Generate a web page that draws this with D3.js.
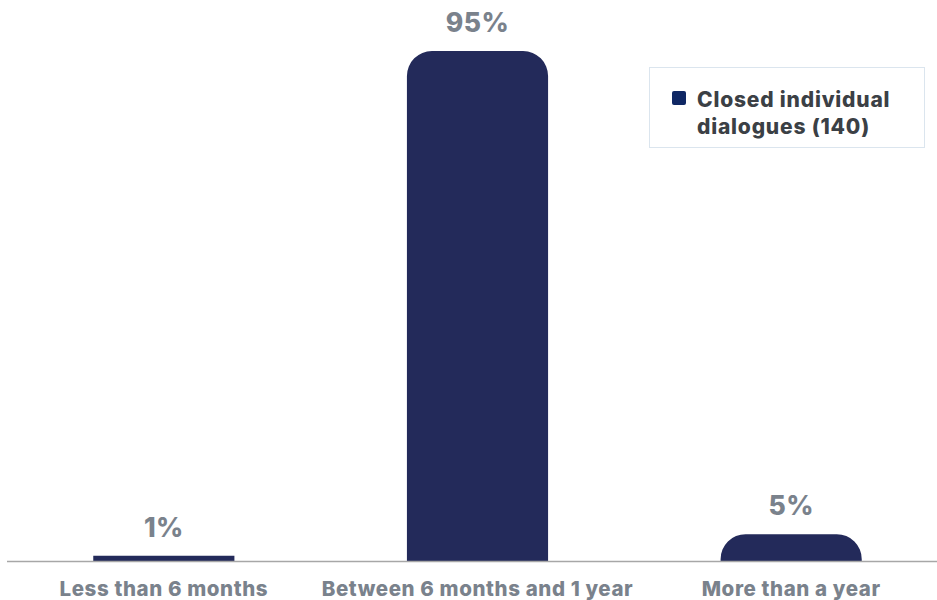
<!DOCTYPE html>
<html>
<head>
<meta charset="utf-8">
<script src="https://cdn.jsdelivr.net/npm/d3@7"></script>
<style>
  html, body { margin: 0; padding: 0; background: #ffffff; }
  svg { display: block; }
  text { font-family: Inter, "Open Sans", sans-serif; font-weight: 800; }
</style>
</head>
<body>
<svg id="chart" width="937" height="600"></svg>
<script>
// Duration of closed individual dialogues
const categories = ["Less than 6 months", "Between 6 months and 1 year", "More than a year"];
const shares = [1, 95, 5];
const seriesName = "Closed individual dialogues (140)";
const legendLines = ["Closed individual", "dialogues (140)"];

const width = 937, height = 600;
const baseY = 561;
const svg = d3.select("#chart");

const x = d3.scaleBand()
  .domain(categories)
  .range([7, 948])
  .paddingInner(0.55)
  .paddingOuter(0.275);

const y = d3.scaleLinear()
  .domain([0, 95])
  .range([baseY, 51]);

const barColor = "#232a5a";
const labelColor = "#7a828c";

// bar with rounded top corners
function barPath(x0, w, yTop, yBot) {
  const h = yBot - yTop;
  const r = h < 10 ? 0 : Math.min(25, h, w / 2);
  return `M${x0},${yBot}V${yTop + r}` +
    (r ? `A${r},${r} 0 0 1 ${x0 + r},${yTop}` : "") +
    `H${x0 + w - r}` +
    (r ? `A${r},${r} 0 0 1 ${x0 + w},${yTop + r}` : "") +
    `V${yBot}Z`;
}

svg.selectAll("path.bar")
  .data(shares)
  .join("path")
  .attr("class", "bar")
  .attr("fill", barColor)
  .attr("d", (d, i) => barPath(x(categories[i]), x.bandwidth(), y(d), baseY));

// baseline
svg.append("line")
  .attr("x1", 7).attr("x2", width)
  .attr("y1", baseY + 0.5).attr("y2", baseY + 0.5)
  .attr("stroke", "#a7a7a7").attr("stroke-width", 1.5);

// value labels
svg.selectAll("text.value")
  .data(shares)
  .join("text")
  .attr("class", "value")
  .attr("x", (d, i) => x(categories[i]) + x.bandwidth() / 2)
  .attr("y", d => y(d) - 19)
  .attr("text-anchor", "middle")
  .attr("fill", labelColor)
  .attr("font-size", 26.5)
  .attr("letter-spacing", 0.4)
  .text(d => d + "%");

// category labels
const xAxis = d3.axisBottom(x).tickSize(0).tickPadding(0);
const gx = svg.append("g").attr("transform", `translate(0,${baseY})`).call(xAxis);
gx.select(".domain").remove();
gx.selectAll("text")
  .attr("dy", null)
  .attr("y", 35)
  .attr("fill", labelColor)
  .attr("font-size", 20.5)
  .attr("letter-spacing", 0.6)
  .style("font-family", "Inter, 'Open Sans', sans-serif")
  .style("font-weight", 800);

// legend
const lg = svg.append("g");
lg.append("rect")
  .attr("x", 649.5).attr("y", 67.5).attr("width", 275).attr("height", 80)
  .attr("fill", "#ffffff").attr("stroke", "#dbe5ee").attr("stroke-width", 1);
lg.append("rect")
  .attr("x", 672).attr("y", 91).attr("width", 14).attr("height", 14).attr("rx", 2)
  .attr("fill", "#0f2764");
lg.selectAll("text.legend")
  .data(legendLines)
  .join("text")
  .attr("class", "legend")
  .attr("x", 697)
  .attr("y", (d, i) => 107 + i * 27)
  .attr("fill", "#3b4045")
  .attr("font-size", 21)
  .attr("letter-spacing", 0.8)
  .text(d => d);
</script>
</body>
</html>
